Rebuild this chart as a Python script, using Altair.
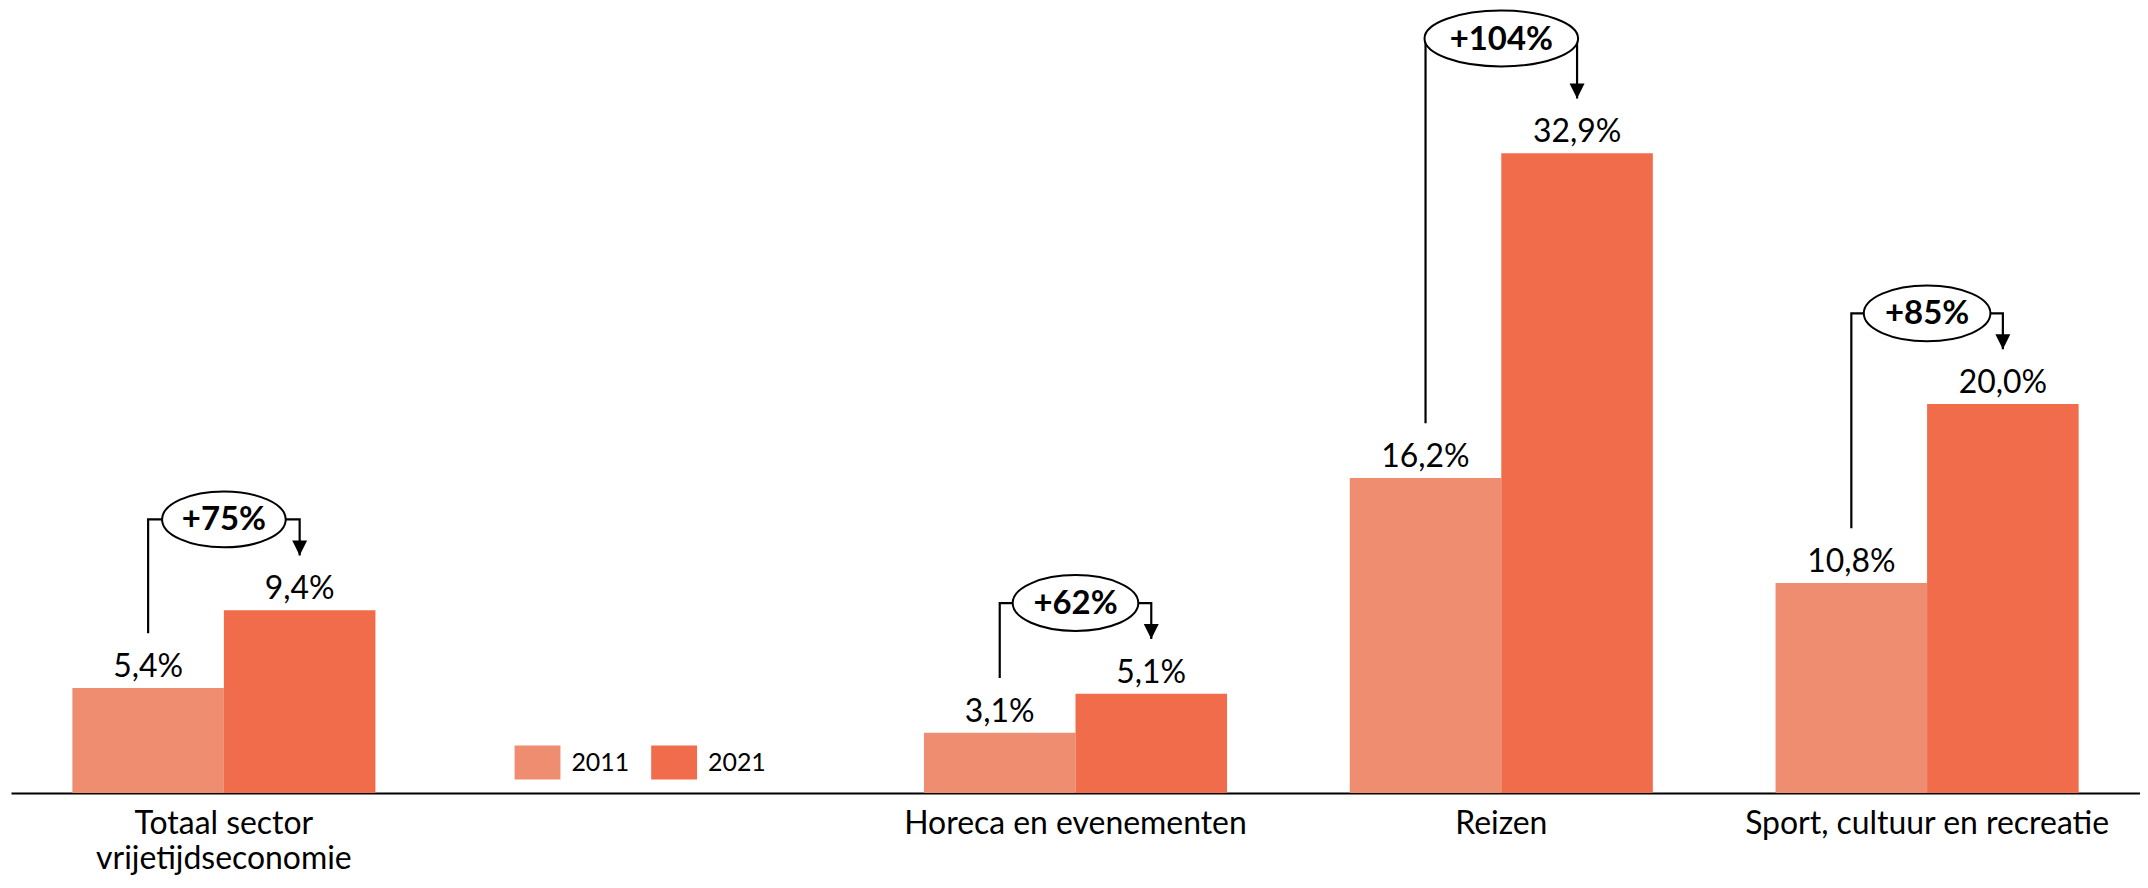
import altair as alt
import pandas as pd

# ---------------- data ----------------
categories = ["Totaal sector vrijetijdseconomie", " ", "Horeca en evenementen",
              "Reizen", "Sport, cultuur en recreatie"]
groups = ["Totaal sector vrijetijdseconomie", "Horeca en evenementen",
          "Reizen", "Sport, cultuur en recreatie"]
years = ["2011", "2021"]
values_2011 = [5.4, 3.1, 16.2, 10.8]
values_2021 = [9.4, 5.1, 32.9, 20.0]
changes = ["+75%", "+62%", "+104%", "+85%"]

# ---------------- layout / style ----------------
C2011 = "#EF8D71"
C2021 = "#F06C4A"
FONT = "Lato"
ellipse_w = [124, 126, 154, 127]      # px
ellipse_h = 56                         # px
bracket_lift = [4.67, 4.67, 5.9, 4.67]  # y-units above 2021 value
arrow_gap = 2.82                         # y-units above bar top

bars = pd.DataFrame(
    [{"category": g, "year": "2011", "value": v} for g, v in zip(groups, values_2011)]
    + [{"category": g, "year": "2021", "value": v} for g, v in zip(groups, values_2021)]
)

line_rows, arrow_rows, ell_rows = [], [], []
for g, a, b, ch, w, lift in zip(groups, values_2011, values_2021, changes, ellipse_w, bracket_lift):
    top = b + lift
    line_rows += [
        {"category": g, "year": "2011", "y": a + arrow_gap, "step": 0},
        {"category": g, "year": "2011", "y": top, "step": 1},
        {"category": g, "year": "2021", "y": top, "step": 2},
        {"category": g, "year": "2021", "y": b + arrow_gap, "step": 3},
    ]
    arrow_rows.append({"category": g, "year": "2021", "y": b + arrow_gap})
    r = ellipse_h / w
    ell_rows.append({"category": g, "y": top, "change": ch,
                     "epath": f"M-1,0A1,{r:.4f},0,1,1,1,0A1,{r:.4f},0,1,1,-1,0Z",
                     "esize": w * w})
lines = pd.DataFrame(line_rows)
arrows = pd.DataFrame(arrow_rows)
ells = pd.DataFrame(ell_rows)

label_expr = ("datum.label == 'Totaal sector vrijetijdseconomie' ? "
              "['Totaal sector', 'vrijetijdseconomie'] : datum.label")

x_enc = alt.X("category:N",
              scale=alt.Scale(domain=categories, paddingInner=0, paddingOuter=0),
              sort=categories,
              axis=alt.Axis(title=None, labelAngle=0, ticks=False, domainColor="black",
                            domainWidth=2, labelFont=FONT, labelFontSize=32,
                            labelColor="black", labelPadding=16, labelLineHeight=35,
                            labelLimit=1000, labelExpr=label_expr))
xoff = alt.XOffset("year:N", scale=alt.Scale(domain=years, paddingInner=0, paddingOuter=0.405))
y_scale = alt.Scale(domain=[0, 40], nice=False, zero=True)

bar_layer = alt.Chart(bars).mark_bar().encode(
    x=x_enc, xOffset=xoff,
    y=alt.Y("value:Q", scale=y_scale, axis=None),
    color=alt.Color("year:N", scale=alt.Scale(domain=years, range=[C2011, C2021]),
                    legend=alt.Legend(title=None, orient="none", legendX=505, legendY=726,
                                      direction="horizontal",
                                      symbolType="M-1,-0.74L1,-0.74L1,0.74L-1,0.74Z",
                                      symbolSize=2116, symbolStrokeWidth=0,
                                      labelFont=FONT, labelFontSize=25, labelColor="black",
                                      labelOffset=11, columnPadding=21)),
)

value_layer = alt.Chart(bars).mark_text(
    font=FONT, fontSize=32, color="black", baseline="alphabetic", dy=-11
).transform_calculate(
    lbl="replace(format(datum.value, '.1f'), '.', ',') + '%'"
).encode(
    x=x_enc, xOffset=xoff,
    y=alt.Y("value:Q", scale=y_scale, axis=None),
    text="lbl:N",
)

line_layer = alt.Chart(lines).mark_line(color="black", strokeWidth=2.2).encode(
    x=x_enc, xOffset=xoff,
    y=alt.Y("y:Q", scale=y_scale, axis=None),
    detail="category:N",
    order="step:Q",
)

arrow_layer = alt.Chart(arrows).mark_point(
    shape="M-1,-2L1,-2L0,0Z", size=225, filled=True, color="black", opacity=1
).encode(
    x=x_enc, xOffset=xoff,
    y=alt.Y("y:Q", scale=y_scale, axis=None),
)

ell_layer = alt.Chart(ells).mark_point(
    filled=True, fill="white", stroke="black", strokeWidth=2, opacity=1, fillOpacity=1
).encode(
    x=x_enc,
    y=alt.Y("y:Q", scale=y_scale, axis=None),
    shape=alt.Shape("epath:N", scale=None, legend=None),
    size=alt.Size("esize:Q", scale=None, legend=None),
)

ell_text = alt.Chart(ells).mark_text(
    font=FONT, fontSize=33, fontWeight="bold", color="black", baseline="middle", dy=1
).encode(
    x=x_enc,
    y=alt.Y("y:Q", scale=y_scale, axis=None),
    text="change:N",
)

chart = alt.layer(bar_layer, value_layer, line_layer, arrow_layer, ell_layer, ell_text).properties(
    width=2135, height=780,
    autosize=alt.AutoSizeParams(type="none"),
    padding={"left": 3, "top": 6, "right": 0, "bottom": 84},
    background="white",
).configure_view(stroke=None)

chart.save("out.html", embed_options={"renderer": "svg", "actions": False})
